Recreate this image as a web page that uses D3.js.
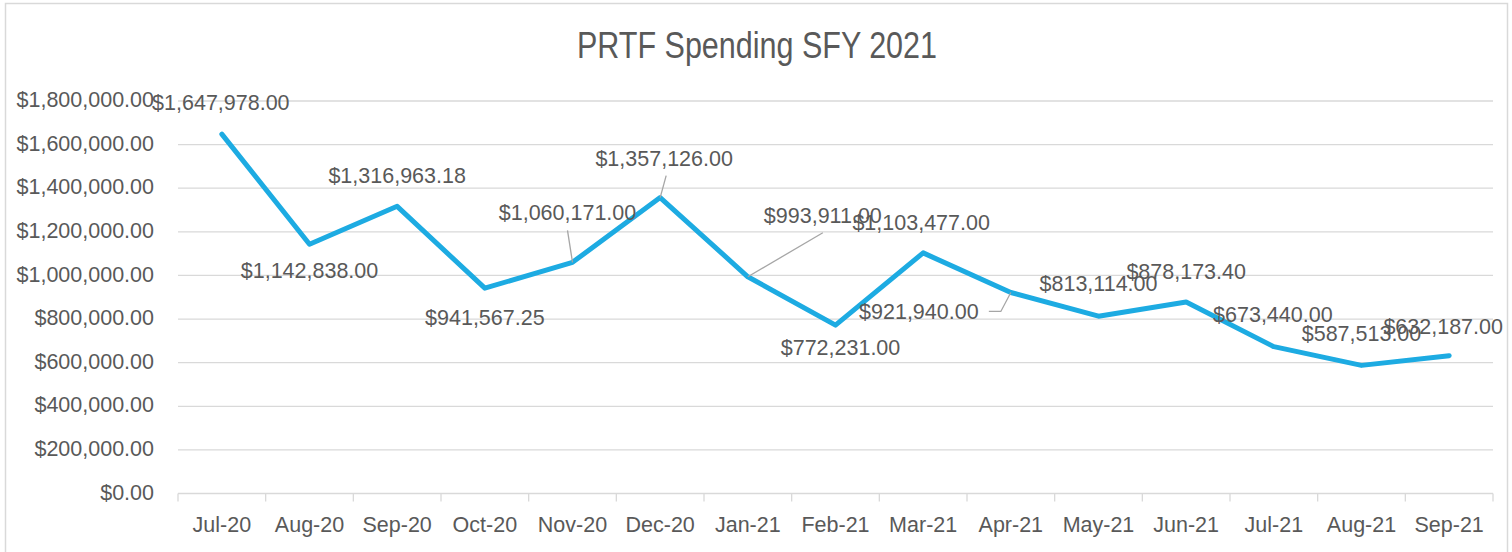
<!DOCTYPE html>
<html>
<head>
<meta charset="utf-8">
<script src="https://cdn.jsdelivr.net/npm/d3@7/dist/d3.min.js"></script>
<style>
  html, body { margin: 0; padding: 0; background: #ffffff; }
  svg { display: block; }
  text { font-family: "Liberation Sans", Arial, sans-serif; fill: #595959; }
</style>
</head>
<body>
<svg id="chart" width="1512" height="552"></svg>
<script>
// Monthly PRTF spending, state fiscal year 2021 (plus first quarter of SFY 2022)
const months = ["Jul-20", "Aug-20", "Sep-20", "Oct-20", "Nov-20", "Dec-20",
                "Jan-21", "Feb-21", "Mar-21", "Apr-21", "May-21", "Jun-21",
                "Jul-21", "Aug-21", "Sep-21"];
const spending = [1647978.00, 1142838.00, 1316963.18, 941567.25, 1060171.00, 1357126.00,
                  993911.00, 772231.00, 1103477.00, 921940.00, 813114.00, 878173.40,
                  673440.00, 587513.00, 632187.00];
const yTicks = [0, 200000, 400000, 600000, 800000, 1000000, 1200000, 1400000, 1600000, 1800000];
const chartTitle = "PRTF Spending SFY 2021";

// Data label placement (pixel offset of the label centre from its point)
const labelOffsets = [
  [-1, -32], [0, 26], [0, -31], [0, 29], [-5, -50], [4, -39],
  [75, -62], [5, 22], [-2, -31], [-92, 19], [0, -33], [0, -31],
  [-1, -32], [0, -32], [-6, -29]
];
// Leader lines: path vertices relative to the label centre, ending at the point
const leaders = {
  4: [[0, 18]],
  5: [[2, 17]],
  6: [[0, 18]],
  9: [[70, 0], [82, 0]]
};

const svg = d3.select("#chart");
const plot = { left: 178, right: 1493, top: 101, bottom: 493.5 };

// Outer chart frame
svg.append("rect")
  .attr("x", 5.5).attr("y", 3.5)
  .attr("width", 1502).attr("height", 560)
  .attr("fill", "#ffffff")
  .attr("stroke", "#D9D9D9").attr("stroke-width", 1.5);

const x = d3.scaleBand().domain(months).range([plot.left, plot.right]).padding(0);
const y = d3.scaleLinear().domain([0, 1800000]).range([plot.bottom, plot.top]);

// Title (condensed)
svg.append("text")
  .attr("x", 757).attr("y", 58)
  .attr("text-anchor", "middle")
  .attr("textLength", 360)
  .attr("lengthAdjust", "spacingAndGlyphs")
  .style("font-size", "36px")
  .text(chartTitle);

// Horizontal gridlines
svg.append("g")
  .selectAll("line")
  .data(yTicks.filter(d => d > 0))
  .join("line")
  .attr("x1", plot.left).attr("x2", plot.right)
  .attr("y1", d => y(d)).attr("y2", d => y(d))
  .attr("stroke", "#D9D9D9").attr("stroke-width", 1.3);

// Y axis (labels only)
const fmt = d3.format("$,.2f");
const yAxis = d3.axisLeft(y).tickValues(yTicks).tickFormat(fmt).tickSize(0).tickPadding(0);
const yG = svg.append("g").attr("transform", `translate(154,0)`).call(yAxis);
yG.select(".domain").remove();
yG.selectAll("text")
  .attr("dy", "0.26em")
  .style("font-family", "'Liberation Sans', Arial, sans-serif")
  .style("font-size", "21.5px")
  .attr("fill", "#595959");

// X axis with ticks at category boundaries
const xG = svg.append("g").attr("transform", `translate(0,${plot.bottom})`);
xG.append("line")
  .attr("x1", plot.left).attr("x2", plot.right)
  .attr("stroke", "#D9D9D9").attr("stroke-width", 1.3);
const boundaries = months.map(m => x(m)).concat([x(months[months.length - 1]) + x.bandwidth()]);
xG.selectAll("line.tick")
  .data(boundaries)
  .join("line")
  .attr("class", "tick")
  .attr("x1", d => d).attr("x2", d => d)
  .attr("y1", 0).attr("y2", 8)
  .attr("stroke", "#D9D9D9").attr("stroke-width", 1.3);
xG.selectAll("text")
  .data(months)
  .join("text")
  .attr("x", d => x(d) + x.bandwidth() / 2)
  .attr("y", 38.5)
  .attr("text-anchor", "middle")
  .style("font-size", "21.5px")
  .text(d => d);

// Series line
const pts = spending.map((v, i) => [x(months[i]) + x.bandwidth() / 2, y(v)]);
svg.append("path")
  .datum(spending)
  .attr("fill", "none")
  .attr("stroke", "#1DABE2")
  .attr("stroke-width", 5)
  .attr("stroke-linejoin", "round")
  .attr("stroke-linecap", "round")
  .attr("d", d3.line()
    .x((v, i) => x(months[i]) + x.bandwidth() / 2)
    .y(v => y(v)));

// Leader lines
Object.entries(leaders).forEach(([k, verts]) => {
  const i = +k;
  const cx = pts[i][0] + labelOffsets[i][0];
  const cy = pts[i][1] + labelOffsets[i][1];
  const path = verts.map(([dx, dy]) => [cx + dx, cy + dy]).concat([pts[i]]);
  svg.append("path")
    .attr("d", d3.line()(path))
    .attr("fill", "none")
    .attr("stroke", "#A6A6A6")
    .attr("stroke-width", 1.3);
});

// Data labels
svg.append("g")
  .selectAll("text")
  .data(spending)
  .join("text")
  .attr("x", (v, i) => pts[i][0] + labelOffsets[i][0])
  .attr("y", (v, i) => pts[i][1] + labelOffsets[i][1])
  .attr("dy", "0.36em")
  .attr("text-anchor", "middle")
  .style("font-size", "21.5px")
  .text(v => fmt(v));
</script>
</body>
</html>
